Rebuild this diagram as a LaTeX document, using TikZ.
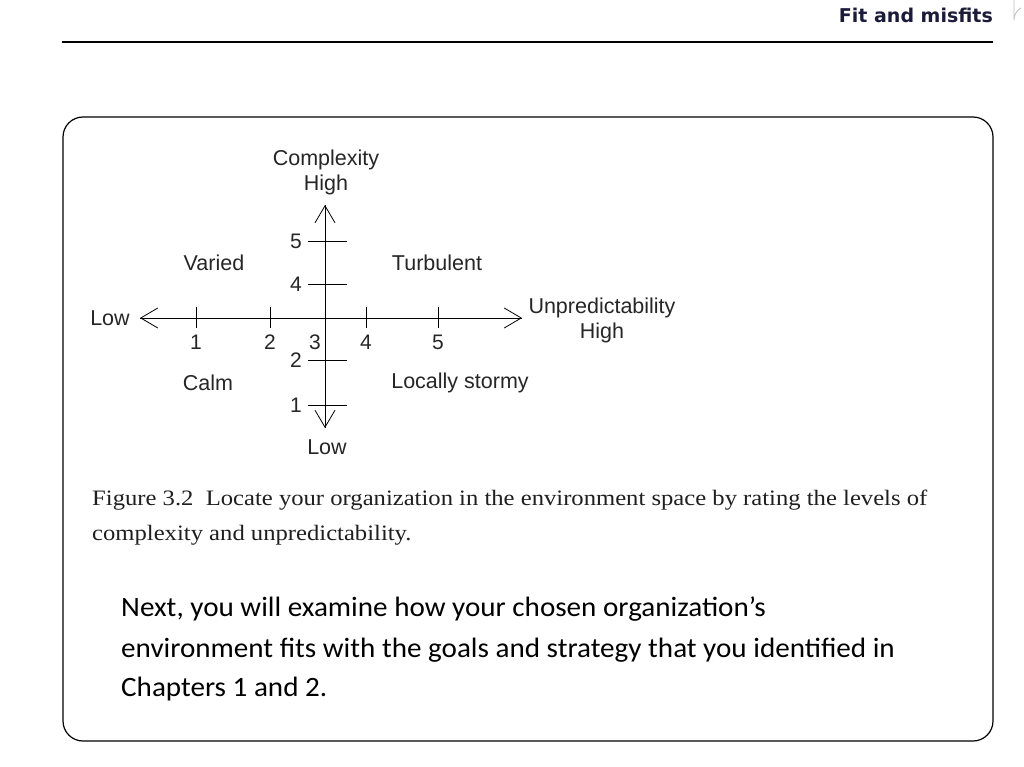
\documentclass[tikz,border=0pt]{standalone}
\usepackage{fontspec}
\setmainfont{Liberation Sans}
\newfontfamily\hdrfont{DejaVu Sans}
\newfontfamily\capfont[FakeStretch=1.12]{Liberation Serif}
\newfontfamily\bodyfont[FakeStretch=1.04]{Carlito}
\usetikzlibrary{arrows.meta}
\definecolor{hdrblue}{HTML}{1B1B3A}
\tikzset{
  axis/.style={line width=0.9pt, -{Straight Barb[length=17pt,width=20pt,line width=0.8pt]}},
  tick/.style={line width=0.8pt},
  lab/.style={font=\fontsize{21.5}{24}\selectfont, text=black!85, inner sep=0pt},
  num/.style={font=\fontsize{21}{24}\selectfont, text=black!85, inner sep=0pt},
  caption/.style={font=\capfont\fontsize{22}{26}\selectfont, text=black!88, anchor=west, inner sep=0pt},
  body/.style={font=\bodyfont\fontsize{28}{32}\selectfont, text=black, anchor=west, inner sep=0pt},
}
\begin{document}
\begin{tikzpicture}[x=1pt,y=-1pt]
\useasboundingbox (0,0) rectangle (1024,767);
\fill[white] (0,0) rectangle (1024,767);
% header
\node[font=\hdrfont\bfseries\fontsize{19}{22}\selectfont, text=hdrblue, anchor=east, inner sep=0pt] (hdr) at (993,15) {Fit and misfits};
\draw[line width=1.3pt] (62,42) coordinate (hl) -- (993,42) coordinate (hr);
\draw[black!25, line width=0.8pt] (1014,0) -- (1014,20) arc[start angle=180, end angle=240, radius=14];
% frame
\draw[line width=1.2pt, rounded corners=20pt] (63,117) rectangle (993,741);
% axes
\coordinate (xl) at (140,318);
\coordinate (xr) at (522,318);
\coordinate (yt) at (325,205);
\coordinate (yb) at (325,428);
\draw[axis] (xr) -- (xl);
\draw[axis] (xl) -- (xr);
\draw[axis] (yb) -- (yt);
\draw[axis] (yt) -- (yb);
% horizontal ticks
\foreach \px/\lbl in {196/1,270/2,366/4,438/5}{
  \draw[tick] (\px,307) -- (\px,328);
  \node[num] (h\lbl) at (\px,342) {\lbl};
}
\node[num] (h3) at (315,342) {3};
% vertical ticks
\foreach \py/\lbl in {241/5,284/4,360/2,405/1}{
  \draw[tick] (308,\py) -- (347,\py);
  \node[num] (v\lbl) at (296,\py) {\lbl};
}
% labels
\node[lab, align=center] (cplx) at (326,172) {Complexity\\[1pt]High};
\node[lab] (lowl) at (110,318) {Low};
\node[lab, align=center] (unp) at (602,320) {Unpredictability\\[1pt]High};
\node[lab] (lowb) at (327,447) {Low};
\node[lab] (varied) at (214,263) {Varied};
\node[lab] (turb) at (437,263) {Turbulent};
\node[lab] (calm) at (208,383) {Calm};
\node[lab] (storm) at (460,383) {Locally stormy};
% caption
\node[caption] (cap1) at (92,500) {Figure 3.2\ \ Locate your organization in the environment space by rating the levels of};
\node[caption] (cap2) at (92,535) {complexity and unpredictability.};
% body
\node[body] (b1) at (121,609) {Next, you will examine how your chosen organization’s};
\node[body] (b2) at (121,650) {environment fits with the goals and strategy that you identified in};
\node[body] (b3) at (121,689) {Chapters 1 and 2.};
\end{tikzpicture}
\end{document}
